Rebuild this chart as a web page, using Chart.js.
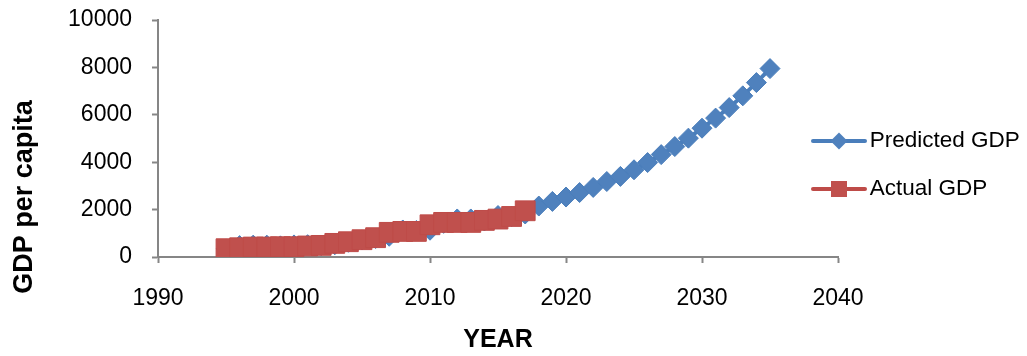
<!DOCTYPE html>
<html>
<head>
<meta charset="utf-8">
<script src="https://cdn.jsdelivr.net/npm/chart.js@4.4.1/dist/chart.umd.min.js"></script>
<style>
  html, body { margin: 0; padding: 0; background: #fff; }
</style>
</head>
<body>
<canvas id="gdpChart" width="1027" height="356"></canvas>
<script>
// years and GDP per capita values
const predictedYears = [
  1995, 1996, 1997, 1998, 1999, 2000, 2001, 2002, 2003, 2004,
  2005, 2006, 2007, 2008, 2009, 2010, 2011, 2012, 2013, 2014,
  2015, 2016, 2017, 2018, 2019, 2020, 2021, 2022, 2023, 2024,
  2025, 2026, 2027, 2028, 2029, 2030, 2031, 2032, 2033, 2034, 2035
];
const predictedGdp = [
  340, 480, 500, 500, 470, 510, 520, 480, 520, 620,
  720, 780, 875, 1140, 1120, 1130, 1420, 1605, 1605, 1520,
  1750, 1700, 1815, 2150, 2345, 2530, 2720, 2935, 3185, 3400,
  3680, 3985, 4320, 4660, 5015, 5435, 5860, 6305, 6800, 7360, 7950
];
const actualYears = [
  1995, 1996, 1997, 1998, 1999, 2000, 2001, 2002, 2003, 2004,
  2005, 2006, 2007, 2008, 2009, 2010, 2011, 2012, 2013, 2014,
  2015, 2016, 2017
];
const actualGdp = [
  350, 390, 420, 420, 435, 435, 465, 490, 575, 645,
  730, 815, 1040, 1080, 1080, 1360, 1460, 1460, 1460, 1545,
  1600, 1710, 1950
];
const seriesLabels = ["Predicted GDP", "Actual GDP"];
const xTitle = "YEAR";
const yTitle = "GDP per capita";

const FONT = '"Liberation Sans", Arial, sans-serif';
const AXIS_GREY = "#868686";
const BLUE_LINE = "#4A7EBB";
const BLUE_FILL = "#4F81BD";
const RED_LINE = "#BE4B48";
const RED_FILL = "#C0504D";

// legend icon: short line with the marker on it, like the spreadsheet legend
function legendIcon(lineColor, fillColor, shape) {
  const c = document.createElement("canvas");
  c.width = 56;
  c.height = 20;
  const g = c.getContext("2d");
  g.strokeStyle = lineColor;
  g.lineWidth = 4;
  g.lineCap = "round";
  g.beginPath();
  g.moveTo(2, 10);
  g.lineTo(54, 10);
  g.stroke();
  g.fillStyle = fillColor;
  if (shape === "diamond") {
    g.beginPath();
    g.moveTo(28, 1.5);
    g.lineTo(36.5, 10);
    g.lineTo(28, 18.5);
    g.lineTo(19.5, 10);
    g.closePath();
    g.fill();
  } else {
    g.fillRect(20, 2, 16, 16);
  }
  return c;
}

// where the legend should sit (icon centre x, first row centre y)
const LEGEND_ICON_X = 839;
const LEGEND_ROW_Y = 141;

const tweaks = {
  id: "tweaks",
  afterLayout(chart) {
    const lg = chart.legend;
    const lab = lg.options.labels;
    const pad = lab.padding;
    const fontSize = lab.font.size;
    const colH = lg.columnSizes[0].height;
    const x0 = lg.left + pad + lab.pointStyleWidth / 2;
    const y0 = (lg.top + pad + lg.bottom - colH) / 2 + fontSize / 2;
    const dx = LEGEND_ICON_X - x0;
    const dy = LEGEND_ROW_Y - y0;
    lg.left += dx;
    lg.top += dy;
    lg.bottom += dy;
    lg.right = chart.width;
    lg.width = lg.right - lg.left;
  },
  afterDraw(chart) {
    // y axis title sits lower than the plot centre in the original
    const ctx = chart.ctx;
    ctx.save();
    ctx.translate(25, 197);
    ctx.rotate(-Math.PI / 2);
    ctx.font = "bold 27px " + FONT;
    ctx.fillStyle = "#000";
    ctx.textAlign = "center";
    ctx.textBaseline = "middle";
    ctx.fillText(yTitle, 0, 0);
    ctx.restore();
  },
};

const ctx = document.getElementById("gdpChart").getContext("2d");

new Chart(ctx, {
  type: "line",
  data: {
    datasets: [
      {
        label: seriesLabels[0],
        data: predictedYears.map((yr, i) => ({ x: yr, y: predictedGdp[i] })),
        borderColor: BLUE_LINE,
        borderWidth: 4,
        backgroundColor: BLUE_FILL,
        pointStyle: "rectRot",
        pointRadius: 10,
        pointBackgroundColor: BLUE_FILL,
        pointBorderColor: BLUE_LINE,
        pointBorderWidth: 1,
        tension: 0,
        order: 1,
      },
      {
        label: seriesLabels[1],
        data: actualYears.map((yr, i) => ({ x: yr, y: actualGdp[i] })),
        borderColor: RED_LINE,
        borderWidth: 4,
        backgroundColor: RED_FILL,
        pointStyle: "rect",
        pointRadius: 14,
        pointBackgroundColor: RED_FILL,
        pointBorderColor: RED_LINE,
        pointBorderWidth: 1,
        tension: 0,
        order: 0,
      },
    ],
  },
  options: {
    responsive: false,
    animation: false,
    layout: { padding: { top: 20, left: 0, right: 0, bottom: 0 } },
    plugins: {
      tooltip: { enabled: false },
      legend: {
        position: "right",
        maxWidth: 189,
        labels: {
          usePointStyle: true,
          pointStyleWidth: 39,
          padding: 25.5,
          color: "#000",
          font: { family: FONT, size: 22.5 },
          sort: (a, b) => a.datasetIndex - b.datasetIndex,
          generateLabels: (chart) =>
            chart.data.datasets.map((ds, i) => ({
              text: ds.label,
              datasetIndex: i,
              pointStyle:
                i === 0
                  ? legendIcon(BLUE_LINE, BLUE_FILL, "diamond")
                  : legendIcon(RED_LINE, RED_FILL, "square"),
              fillStyle: ds.backgroundColor,
              strokeStyle: ds.borderColor,
              lineWidth: 0,
              fontColor: "#000",
              hidden: false,
            })),
        },
      },
    },
    scales: {
      x: {
        type: "linear",
        min: 1990,
        max: 2040,
        afterFit: (scale) => {
          scale.height = 99;
        },
        ticks: {
          stepSize: 10,
          padding: 22,
          color: "#000",
          font: { family: FONT, size: 23 },
          callback: (v) => String(v),
        },
        grid: {
          display: true,
          drawOnChartArea: false,
          drawTicks: true,
          tickLength: 6,
          tickWidth: 2,
          tickColor: AXIS_GREY,
        },
        border: { display: true, color: AXIS_GREY, width: 2 },
        title: {
          display: true,
          text: xTitle,
          color: "#000",
          font: { family: FONT, size: 25, weight: "bold", lineHeight: 1 },
          padding: { top: 0, bottom: 3 },
        },
      },
      y: {
        min: 0,
        max: 10000,
        afterFit: (scale) => {
          scale.width = 158;
          scale.paddingTop = 0;
          scale.paddingBottom = 0;
        },
        ticks: {
          stepSize: 2000,
          padding: 20,
          color: "#000",
          font: { family: FONT, size: 23 },
          callback: (v) => String(v),
        },
        grid: {
          display: true,
          drawOnChartArea: false,
          drawTicks: true,
          tickLength: 6,
          tickWidth: 2,
          tickColor: AXIS_GREY,
        },
        border: { display: true, color: AXIS_GREY, width: 2 },
      },
    },
  },
  plugins: [tweaks],
});
</script>
</body>
</html>
